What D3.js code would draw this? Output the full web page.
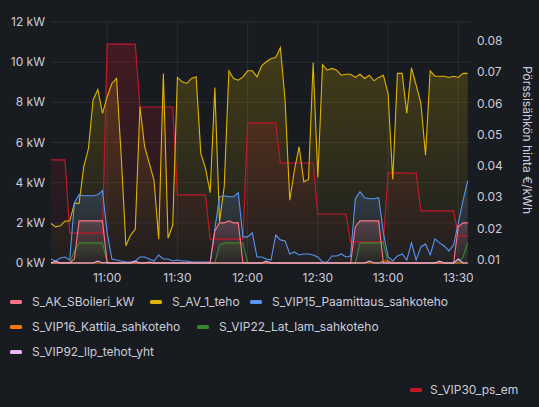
<!DOCTYPE html>
<html><head><meta charset="utf-8">
<script src="https://cdn.jsdelivr.net/npm/d3@7"></script>
<style>body{margin:0;background:#181b1f;}svg{display:block;font-family:Inter,"Noto Sans",sans-serif;}</style>
</head><body><svg id="c" width="539" height="407"></svg>
<script>
const startTime = "10:36";
const yellowValues = [1.97,1.8,1.85,2.09,2.09,2.97,2.97,4.8,5.7,8.14,8.64,7.45,8.27,8.94,9.19,5.3,0.86,1.39,1.68,7.78,
5.79,4.96,4.13,1.18,9.44,1.23,1.89,9.24,9.02,8.94,9.19,9.27,5.46,4.71,3.5,8.74,2.06,3.8,9.57,9.19,
9.1,9.27,9.57,9.57,9.27,9.82,10.02,
10.18,10.23,10.73,8.1,3.13,4.63,5.79,4.04,4.16,9.98,4.26,9.88,9.6,9.69,9.6,9.35,9.4,9.4,9.24,9.4,
9.19,9.35,9.07,9.24,9.35,8.44,4.16,9.44,9.44,7.45,9.72,8.86,7.98,5.37,9.57,9.3,9.3,9.3,9.24,9.3,9.24,9.44,9.44];
const blueValues = [0.2,0.1,0.25,0.3,0.15,3.0,3.4,3.35,3.35,3.35,3.4,3.6,1.5,0.2,0.15,0.1,0.05,0.05,0.1,0.3,
0.3,0.2,0.1,0.4,0.2,0.2,0.1,0.15,0.1,0.1,0.05,0.05,0.05,0.05,0.05,1.7,3.3,3.35,3.3,3.3,3.5,1.3,1.3,1.5,0.3,0.3,0.2,
0.15,1.4,1.15,1.1,0.45,0.55,0.4,0.45,0.45,0.4,0.3,0.05,0.05,0.35,0.35,0.45,0.3,0.35,3.2,3.55,
3.25,3.2,3.2,3.25,1.5,0.3,0.1,0.35,0.45,0.15,1.0,0.15,0.8,0.95,0.4,1.2,1.0,0.85,0.6,0.9,2.0,3.1,4.1];
const pinkNonZero = [["10:46",0.2],["10:48",2.1],["10:50",2.1],["10:52",2.1],["10:54",2.1],["10:56",2.1],["10:58",2.1],
["11:46",1.6],["11:48",2.0],["11:50",2.0],["11:52",2.1],["11:54",2.0],["11:56",2.0],
["12:46",1.8],["12:48",2.1],["12:50",2.1],["12:52",2.1],["12:54",2.1],["12:56",2.1],["13:30",1.8],["13:32",2.0],["13:34",2.0]];
const greenNonZero = [["10:46",0.6],["10:48",1.0],["10:50",1.0],["10:52",1.0],["10:54",1.0],["10:56",1.0],["10:58",1.0],
["11:48",0.9],["11:50",1.0],["11:52",1.0],["11:54",1.0],["11:56",1.0],["11:58",1.0],
["12:48",1.0],["12:50",1.0],["12:52",1.0],["12:54",1.0],["12:56",1.0],["12:58",1.0],["13:32",0.3],["13:34",1.0]];
const orangeNonZero = [["11:00",0.05],["12:58",0.1],["13:00",0.1]];
const lavenderNonZero = [["10:38",0.1],["10:56",0.1],["11:12",0.1],["11:18",0.05],["12:08",0.1],["12:52",0.1],["13:22",0.1],["13:30",0.2]];
const priceCorners = [["10:36",.042],["10:42",.042],["10:44",.0186],["10:58",.0186],["11:00",.079],["11:12",.079],["11:14",.0589],["11:28",.0589],
["11:30",.0308],["11:42",.0308],["11:44",.0167],["11:58",.0167],["12:00",.0538],["12:12",.0538],["12:14",.041],["12:28",.041],
["12:30",.0247],["12:42",.0247],["12:44",.0158],["12:58",.0158],["13:00",.0378],["13:12",.0378],["13:14",.0257],["13:28",.0257],["13:30",.0177],["13:34",.0177]];
const leftTicks = [0,2,4,6,8,10,12];
const rightTicks = [0.01,0.02,0.03,0.04,0.05,0.06,0.07,0.08];
const timeTicks = ["11:00","11:30","12:00","12:30","13:00","13:30"];

const P = d3.timeParse("%H:%M");
const t0 = P(startTime);
const times = yellowValues.map((_, i) => d3.timeMinute.offset(t0, 2 * i));
const fromPairs = pairs => { const m = new Map(pairs.map(([t, v]) => [+P(t), v])); return times.map(t => ({t, v: m.get(+t) || 0})); };
const svg = d3.select("#c");
const L = 51, R = 470, T = 22, B = 263;
const x = d3.scaleTime().domain([d3.timeMinute.offset(P("11:00"), -23.9), d3.timeMinute.offset(P("13:30"), 5.1)]).range([L, R]);
const y = d3.scaleLinear().domain([0, 12]).range([B, T]);
const y2 = d3.scaleLinear().domain([0.01 - 3 / 31.29 * 0.01, 0.08 + 19 / 31.29 * 0.01]).range([B, T]);
const txt = "#ccccdc", grid = "#2a2d32";

const ga = svg.append("g");
leftTicks.forEach(v => ga.append("line").attr("x1", L).attr("x2", R).attr("y1", y(v)).attr("y2", y(v)).attr("stroke", grid));
timeTicks.forEach(s => ga.append("line").attr("x1", x(P(s))).attr("x2", x(P(s))).attr("y1", T).attr("y2", B).attr("stroke", grid));

const defs = svg.append("defs");
function grad(id, c, a) {
  const g = defs.append("linearGradient").attr("id", id).attr("x1", 0).attr("x2", 0).attr("y1", 0).attr("y2", 1);
  g.append("stop").attr("offset", 0).attr("stop-color", c).attr("stop-opacity", a);
  g.append("stop").attr("offset", 1).attr("stop-color", c).attr("stop-opacity", 0.02);
}
const series = [
  {name: "S_AK_SBoileri_kW", color: "#ff7383", data: fromPairs(pinkNonZero)},
  {name: "S_AV_1_teho", color: "#e0b400", data: times.map((t, i) => ({t, v: yellowValues[i]}))},
  {name: "S_VIP15_Paamittaus_sahkoteho", color: "#5794f2", data: times.map((t, i) => ({t, v: blueValues[i]}))},
  {name: "S_VIP16_Kattila_sahkoteho", color: "#ff780a", data: fromPairs(orangeNonZero)},
  {name: "S_VIP22_Lat_lam_sahkoteho", color: "#37872d", data: fromPairs(greenNonZero)},
  {name: "S_VIP92_llp_tehot_yht", color: "#e8b9f5", data: fromPairs(lavenderNonZero)},
];
const price = priceCorners.map(([t, v]) => ({t: P(t), v}));
const priceColor = "#c4162a";

const plot = svg.append("g");
const area = d3.area().x(d => x(d.t)).y0(B).y1(d => y(d.v));
const line = d3.line().x(d => x(d.t)).y(d => y(d.v));
const area2 = d3.area().x(d => x(d.t)).y0(B).y1(d => y2(d.v));
const line2 = d3.line().x(d => x(d.t)).y(d => y2(d.v));
series.forEach((s, i) => { grad("g" + i, s.color, 0.22); plot.append("path").attr("d", area(s.data)).attr("fill", `url(#g${i})`); });
grad("gp", priceColor, 0.25);
plot.append("path").attr("d", area2(price)).attr("fill", "url(#gp)");
plot.append("path").attr("d", line2(price)).attr("fill", "none").attr("stroke", priceColor).attr("stroke-width", 1.2);
[1, 2, 4, 3, 0, 5].forEach(i => plot.append("path").attr("d", line(series[i].data)).attr("fill", "none").attr("stroke", series[i].color).attr("stroke-width", 1.1));

const ax = svg.append("g").attr("font-size", 12).attr("fill", txt);
leftTicks.forEach(v => ax.append("text").attr("x", 45).attr("y", y(v) + 4).attr("text-anchor", "end").text(v + " kW"));
rightTicks.forEach(v => ax.append("text").attr("x", 477).attr("y", y2(v) + 4).text(v.toFixed(2)));
timeTicks.forEach(s => ax.append("text").attr("x", x(P(s))).attr("y", 282).attr("text-anchor", "middle").text(s));
ax.append("text").attr("transform", "translate(523,140) rotate(90)").attr("text-anchor", "middle").text("Pörssisähkön hinta €/kWh");

const lg = svg.append("g").attr("font-size", 12).attr("fill", txt);
const pos = [[10, 302], [150, 302], [250, 302], [10, 327], [197, 327], [10, 352]];
series.forEach((s, i) => {
  lg.append("rect").attr("x", pos[i][0]).attr("y", pos[i][1] - 2).attr("width", 12).attr("height", 4).attr("rx", 1.5).attr("fill", s.color);
  lg.append("text").attr("x", pos[i][0] + 22).attr("y", pos[i][1] + 4).text(s.name);
});
lg.append("rect").attr("x", 410).attr("y", 388).attr("width", 12).attr("height", 4).attr("rx", 1.5).attr("fill", priceColor);
lg.append("text").attr("x", 430).attr("y", 394).text("S_VIP30_ps_em");
</script></body></html>
